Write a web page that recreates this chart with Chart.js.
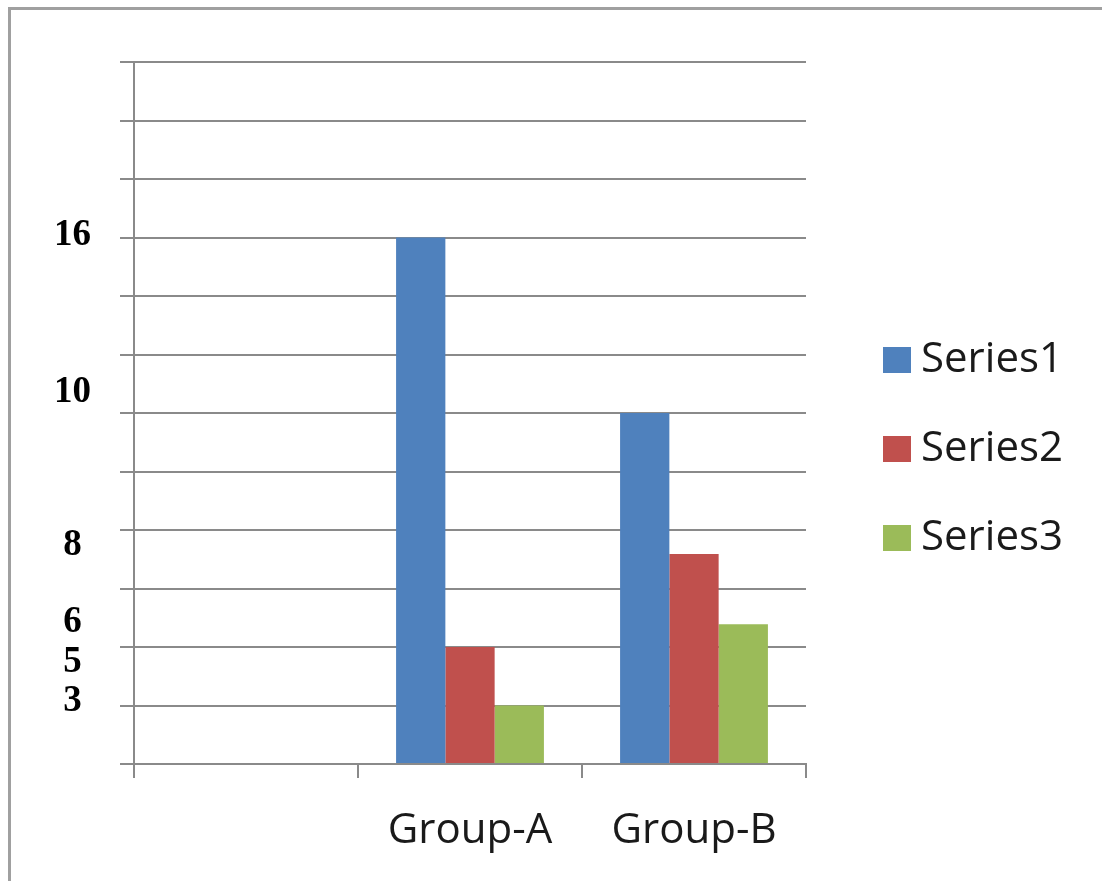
<!DOCTYPE html>
<html>
<head>
<meta charset="utf-8">
<script src="https://cdn.jsdelivr.net/npm/chart.js@4/dist/chart.umd.min.js"></script>
<style>
  html, body { margin: 0; padding: 0; background: #fff; }
  #frame {
    position: absolute; left: 8px; top: 7px; right: 0; bottom: 0;
    border-top: 3px solid #a0a0a0; border-left: 3px solid #a0a0a0;
  }
  #c { position: absolute; left: 0; top: 0; }
</style>
</head>
<body>
<div id="frame"></div>
<canvas id="c" width="1102" height="881"></canvas>
<script>
// ---- data ----
const categories = ['', 'Group-A', 'Group-B'];
const series1 = [null, 16, 10];
const series2 = [null, 5, 8];
const series3 = [null, 3, 6];
const seriesNames = ['Series1', 'Series2', 'Series3'];
const seriesColors = ['#4F81BD', '#C0504D', '#9BBB59'];
const yTickLabels = [3, 5, 6, 8, 10, 16];

// The value axis is unevenly spaced. Each table ties axis values to
// gridline steps (12 equal steps from the baseline up to the top line).
const GRID_STEPS = 12;
const barAxisValues   = [0, 3, 5, 6, 8, 10, 16, 22];
const barAxisSteps    = [0, 1, 2, 2.39, 3.59, 6, 9, 12];
// the hand-set value labels sit a little off the bar ends
const labelAxisValues = [0, 3, 5, 6, 8, 10, 16, 22];
const labelAxisSteps  = [0, 1.07, 1.74, 2.42, 3.73, 6.35, 9.04, 12];

const GRID = '#8a8a8a';
const TEXT = '#1a1a1a';
const FONT_SANS = '"Open Sans"';
const SANS_SIZE = 42;

function interp(x, xs, ys) {
  const n = xs.length - 1;
  let i = 1;
  while (i < n && x > xs[i]) i++;
  return ys[i - 1] + (x - xs[i - 1]) * (ys[i] - ys[i - 1]) / (xs[i] - xs[i - 1]);
}

// Linear scale whose value-to-pixel mapping follows a piecewise table.
function makeWarpedScale(id, values, steps, tickBuilder) {
  const toStep = v => interp(v, values, steps);
  const toValue = s => interp(s, steps, values);
  class WarpedScale extends Chart.LinearScale {
    buildTicks() { return tickBuilder(toValue); }
    getPixelForValue(value) {
      if (value === null || value === undefined || isNaN(value)) return NaN;
      return this.getPixelForDecimal(toStep(value) / GRID_STEPS);
    }
    getValueForPixel(pixel) {
      return toValue(this.getDecimalForPixel(pixel) * GRID_STEPS);
    }
  }
  WarpedScale.id = id;
  WarpedScale.defaults = Chart.LinearScale.defaults;
  Chart.register(WarpedScale);
}

// bar axis: one tick per gridline
makeWarpedScale('warpedBars', barAxisValues, barAxisSteps, toValue => {
  const ticks = [];
  for (let s = 0; s <= GRID_STEPS; s++) ticks.push({ value: toValue(s) });
  return ticks;
});
// label axis: one tick per value label
makeWarpedScale('warpedLabels', labelAxisValues, labelAxisSteps,
  () => yTickLabels.map(v => ({ value: v })));

// Solid legend swatches
function makeSwatch(color) {
  const c = document.createElement('canvas');
  c.width = 28; c.height = 26;
  const g = c.getContext('2d');
  g.fillStyle = color;
  g.fillRect(0, 0, 28, 26);
  return c;
}
const swatches = seriesColors.map(makeSwatch);

function draw() {
  // legend sizing: items start 894px from the left edge
  const LEG_PAD = 47, SWATCH_SLOT = 6;
  const m = document.createElement('canvas').getContext('2d');
  m.font = SANS_SIZE + 'px ' + FONT_SANS;
  const textW = Math.max(...seriesNames.map(s => m.measureText(s).width));
  const legendW = LEG_PAD + SWATCH_SLOT + SANS_SIZE / 2 + textW + 10;
  const legendLeft = 894 - LEG_PAD;
  const padRight = 1102 - legendLeft - legendW;

  const seriesData = [series1, series2, series3];
  new Chart(document.getElementById('c'), {
    type: 'bar',
    data: {
      labels: categories,
      datasets: seriesData.map((d, i) => ({
        label: seriesNames[i],
        data: d,
        backgroundColor: seriesColors[i],
        borderWidth: 0,
        barPercentage: 1,
        categoryPercentage: 0.66,
        xAxisID: 'x',
        yAxisID: 'y'
      }))
    },
    options: {
      responsive: false,
      animation: false,
      events: [],
      layout: { padding: { top: 45, bottom: 28, left: 0, right: padRight } },
      scales: {
        x: {
          type: 'category',
          grid: { display: true, offset: true, drawOnChartArea: false, drawTicks: true,
                  tickLength: 14, color: GRID, lineWidth: 2 },
          border: { display: true, color: GRID, width: 2 },
          ticks: { color: TEXT, font: { family: FONT_SANS, size: SANS_SIZE },
                   padding: 28, autoSkip: false, maxRotation: 0 },
          afterFit(s) { s.height = 89; }
        },
        topGap: {
          type: 'linear', axis: 'x', position: 'top', display: true,
          grid: { display: false }, border: { display: false }, ticks: { display: false },
          afterFit(s) { s.height = 17; }
        },
        y: {
          type: 'warpedBars',
          position: 'left',
          weight: 0,
          min: 0,
          max: 22,
          grid: { display: true, drawTicks: true, tickLength: 14, lineWidth: 2, color: GRID },
          border: { display: true, color: GRID, width: 2 },
          ticks: { display: false },
          afterFit(s) { s.width = 14; }
        },
        yLabels: {
          type: 'warpedLabels',
          axis: 'y',
          position: 'left',
          weight: 1,
          min: 0,
          max: 22,
          grid: { display: false, drawTicks: false },
          border: { display: false },
          ticks: {
            autoSkip: false,
            crossAlign: 'center',
            padding: 29,
            color: '#000',
            font: { family: '"Liberation Serif"', size: 37, weight: 'bold' },
            callback: value => String(value)
          },
          afterFit(s) { s.width = 120; }
        },
        gap: {
          type: 'linear', axis: 'y', position: 'right', display: true,
          grid: { display: false }, border: { display: false }, ticks: { display: false },
          afterFit(s) { s.width = legendLeft - 806; }
        }
      },
      plugins: {
        tooltip: { enabled: false },
        legend: {
          position: 'right',
          align: 'center',
          maxWidth: 400,
          labels: {
            usePointStyle: true,
            pointStyleWidth: SWATCH_SLOT,
            padding: LEG_PAD,
            color: TEXT,
            font: { family: FONT_SANS, size: SANS_SIZE },
            generateLabels(chart) {
              const items = Chart.defaults.plugins.legend.labels.generateLabels(chart);
              items.forEach((it, i) => { it.pointStyle = swatches[i]; });
              return items;
            }
          }
        }
      }
    }
  });
}

Promise.all([
  document.fonts.load(SANS_SIZE + 'px ' + FONT_SANS),
  document.fonts.load('bold 37px "Liberation Serif"')
]).catch(() => {}).then(draw);
</script>
</body>
</html>
